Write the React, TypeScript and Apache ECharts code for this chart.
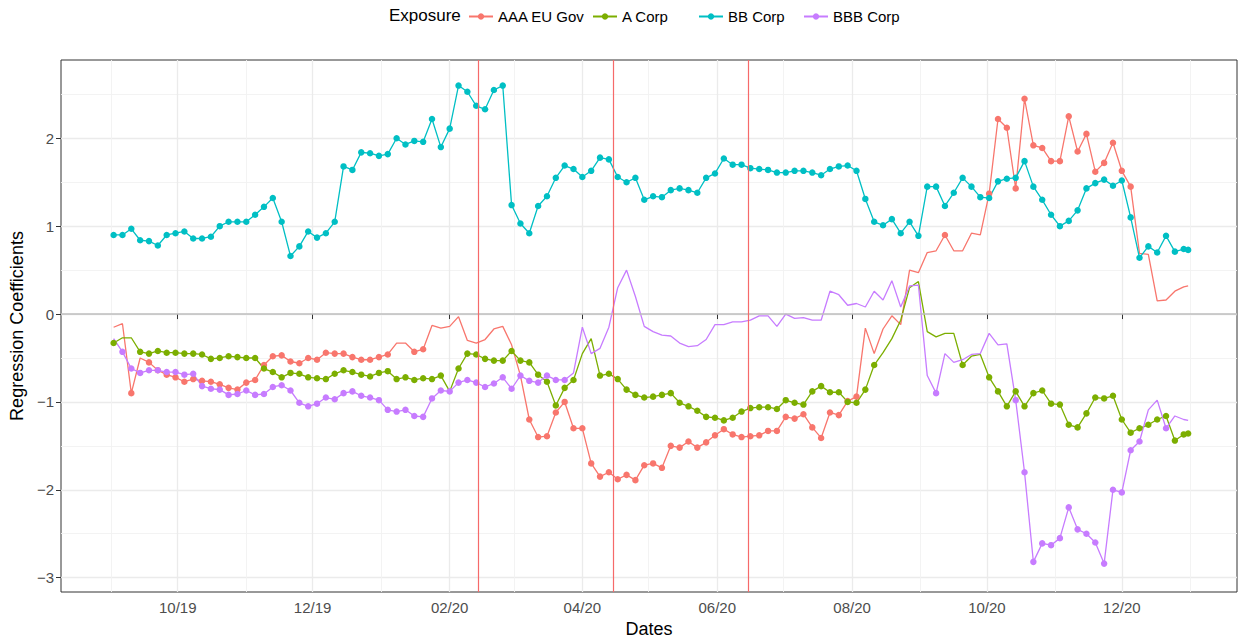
import React, { useEffect, useRef } from 'react';
import * as echarts from 'echarts';

const FONT = '"Liberation Sans", Arial, Helvetica, sans-serif';

const seriesNames = ['AAA EU Gov', 'A Corp', 'BB Corp', 'BBB Corp'];
const seriesColors = ['#F8766D', '#7CAE00', '#00BFC4', '#C77CFF'];

const dates = [
  '2019-09-02', '2019-09-06', '2019-09-10', '2019-09-14', '2019-09-18', '2019-09-22', '2019-09-26', '2019-09-30',
  '2019-10-04', '2019-10-08', '2019-10-12', '2019-10-16', '2019-10-20', '2019-10-24', '2019-10-28',
  '2019-11-01', '2019-11-05', '2019-11-09', '2019-11-13', '2019-11-17', '2019-11-21', '2019-11-25', '2019-11-29',
  '2019-12-03', '2019-12-07', '2019-12-11', '2019-12-15', '2019-12-19', '2019-12-23', '2019-12-27', '2019-12-31',
  '2020-01-04', '2020-01-08', '2020-01-12', '2020-01-16', '2020-01-20', '2020-01-24', '2020-01-28',
  '2020-02-01', '2020-02-05', '2020-02-09', '2020-02-13', '2020-02-17', '2020-02-21', '2020-02-25', '2020-02-29',
  '2020-03-04', '2020-03-08', '2020-03-12', '2020-03-16', '2020-03-20', '2020-03-24', '2020-03-28',
  '2020-04-01', '2020-04-05', '2020-04-09', '2020-04-13', '2020-04-17', '2020-04-21', '2020-04-25', '2020-04-29',
  '2020-05-03', '2020-05-07', '2020-05-11', '2020-05-15', '2020-05-19', '2020-05-23', '2020-05-27', '2020-05-31',
  '2020-06-04', '2020-06-08', '2020-06-12', '2020-06-16', '2020-06-20', '2020-06-24', '2020-06-28',
  '2020-07-02', '2020-07-06', '2020-07-10', '2020-07-14', '2020-07-18', '2020-07-22', '2020-07-26', '2020-07-30',
  '2020-08-03', '2020-08-07', '2020-08-11', '2020-08-15', '2020-08-19', '2020-08-23', '2020-08-27', '2020-08-31',
  '2020-09-04', '2020-09-08', '2020-09-12', '2020-09-16', '2020-09-20', '2020-09-24', '2020-09-28',
  '2020-10-02', '2020-10-06', '2020-10-10', '2020-10-14', '2020-10-18', '2020-10-22', '2020-10-26', '2020-10-30',
  '2020-11-03', '2020-11-07', '2020-11-11', '2020-11-15', '2020-11-19', '2020-11-23', '2020-11-27',
  '2020-12-01', '2020-12-05', '2020-12-09', '2020-12-13', '2020-12-17', '2020-12-21', '2020-12-25', '2020-12-29', '2020-12-31',
];

const aaaEuGov = [
  -0.15, -0.11, -0.90, -0.50, -0.55, -0.64, -0.69, -0.72, -0.77, -0.74,
  -0.76, -0.77, -0.80, -0.84, -0.86, -0.78, -0.75, -0.58, -0.48, -0.47,
  -0.54, -0.56, -0.50, -0.52, -0.44, -0.45, -0.45, -0.49, -0.52, -0.52,
  -0.49, -0.46, -0.33, -0.33, -0.43, -0.40, -0.13, -0.16, -0.14, -0.03,
  -0.30, -0.33, -0.29, -0.17, -0.14, -0.35, -0.70, -1.20, -1.40, -1.39,
  -1.12, -1.00, -1.30, -1.30, -1.70, -1.85, -1.80, -1.88, -1.83, -1.89,
  -1.72, -1.70, -1.75, -1.50, -1.52, -1.45, -1.52, -1.46, -1.38, -1.31,
  -1.37, -1.40, -1.39, -1.38, -1.33, -1.33, -1.17, -1.19, -1.14, -1.29,
  -1.41, -1.12, -1.15, -0.99, -0.94, -0.16, -0.45, -0.17, -0.02, -0.12,
  0.50, 0.47, 0.70, 0.72, 0.90, 0.72, 0.72, 0.92, 0.90, 1.37,
  2.22, 2.12, 1.43, 2.45, 1.92, 1.89, 1.74, 1.74, 2.25, 1.85,
  2.05, 1.62, 1.72, 1.95, 1.63, 1.45, 0.69, 0.68, 0.15, 0.16,
  0.26, 0.31, 0.32,
];
const aaaEuGovDots = [
  0, 0, 1, 0, 1, 1, 1, 1, 1, 1,
  1, 1, 1, 1, 1, 1, 1, 1, 1, 1,
  1, 1, 1, 1, 1, 1, 1, 1, 1, 1,
  1, 1, 0, 0, 1, 1, 0, 0, 0, 0,
  0, 0, 0, 0, 0, 0, 0, 1, 1, 1,
  1, 1, 1, 1, 1, 1, 1, 1, 1, 1,
  1, 1, 1, 1, 1, 1, 1, 1, 1, 1,
  1, 1, 1, 1, 1, 1, 1, 1, 1, 1,
  1, 1, 1, 1, 1, 0, 0, 0, 0, 0,
  0, 0, 0, 0, 1, 0, 0, 0, 0, 1,
  1, 1, 1, 1, 1, 1, 1, 1, 1, 1,
  1, 1, 1, 1, 1, 1, 0, 0, 0, 0,
  0, 0, 0,
];

const aCorp = [
  -0.33, -0.27, -0.27, -0.43, -0.45, -0.42, -0.44, -0.44, -0.45, -0.45,
  -0.46, -0.51, -0.50, -0.48, -0.49, -0.50, -0.50, -0.62, -0.66, -0.72,
  -0.67, -0.68, -0.72, -0.73, -0.74, -0.68, -0.64, -0.66, -0.69, -0.71,
  -0.67, -0.65, -0.74, -0.72, -0.75, -0.73, -0.74, -0.70, -0.88, -0.62,
  -0.45, -0.46, -0.51, -0.53, -0.53, -0.42, -0.53, -0.55, -0.69, -0.77,
  -1.04, -0.84, -0.75, -0.45, -0.28, -0.70, -0.68, -0.74, -0.86, -0.92,
  -0.95, -0.94, -0.92, -0.90, -1.01, -1.05, -1.10, -1.17, -1.18, -1.21,
  -1.18, -1.11, -1.07, -1.06, -1.06, -1.08, -0.98, -1.01, -1.03, -0.88,
  -0.82, -0.89, -0.89, -1.00, -1.01, -0.86, -0.58, -0.44, -0.28, -0.07,
  0.30, 0.37, -0.20, -0.26, -0.22, -0.22, -0.58, -0.48, -0.46, -0.72,
  -0.88, -1.05, -0.88, -1.05, -0.90, -0.87, -1.02, -1.03, -1.26, -1.29,
  -1.13, -0.95, -0.96, -0.93, -1.20, -1.35, -1.30, -1.26, -1.20, -1.16,
  -1.44, -1.37, -1.36,
];
const aCorpDots = [
  1, 0, 0, 1, 1, 1, 1, 1, 1, 1,
  1, 1, 1, 1, 1, 1, 1, 1, 1, 1,
  1, 1, 1, 1, 1, 1, 1, 1, 1, 1,
  1, 1, 1, 1, 1, 1, 1, 1, 0, 1,
  1, 1, 1, 1, 1, 1, 1, 1, 1, 1,
  1, 1, 1, 0, 0, 1, 1, 1, 1, 1,
  1, 1, 1, 1, 1, 1, 1, 1, 1, 1,
  1, 1, 1, 1, 1, 1, 1, 1, 1, 1,
  1, 1, 1, 1, 1, 1, 1, 0, 0, 0,
  0, 0, 0, 0, 0, 0, 1, 0, 0, 1,
  1, 1, 1, 1, 1, 1, 1, 1, 1, 1,
  1, 1, 1, 1, 1, 1, 1, 1, 1, 1,
  1, 1, 1,
];

const bbCorp = [
  0.90, 0.90, 0.97, 0.84, 0.83, 0.78, 0.90, 0.92, 0.94, 0.86,
  0.86, 0.88, 1.00, 1.05, 1.05, 1.05, 1.13, 1.22, 1.32, 1.05,
  0.66, 0.77, 0.94, 0.87, 0.92, 1.05, 1.68, 1.64, 1.84, 1.83,
  1.80, 1.82, 2.00, 1.93, 1.97, 1.96, 2.22, 1.90, 2.11, 2.60,
  2.53, 2.37, 2.33, 2.55, 2.60, 1.24, 1.03, 0.92, 1.23, 1.34,
  1.55, 1.69, 1.65, 1.56, 1.63, 1.78, 1.76, 1.56, 1.50, 1.55,
  1.30, 1.34, 1.33, 1.41, 1.43, 1.41, 1.38, 1.55, 1.60, 1.77,
  1.70, 1.70, 1.66, 1.65, 1.64, 1.61, 1.61, 1.63, 1.63, 1.61,
  1.58, 1.65, 1.68, 1.69, 1.63, 1.31, 1.05, 1.01, 1.08, 0.92,
  1.05, 0.89, 1.45, 1.45, 1.23, 1.38, 1.55, 1.45, 1.33, 1.32,
  1.51, 1.54, 1.55, 1.74, 1.45, 1.30, 1.13, 1.00, 1.06, 1.18,
  1.43, 1.49, 1.53, 1.46, 1.52, 1.10, 0.64, 0.77, 0.70, 0.89,
  0.71, 0.74, 0.73,
];
const bbCorpDots = dates.map(() => 1);

const bbbCorp = [
  -0.28, -0.43, -0.62, -0.67, -0.64, -0.64, -0.66, -0.66, -0.69, -0.68,
  -0.82, -0.85, -0.86, -0.92, -0.91, -0.87, -0.92, -0.91, -0.83, -0.81,
  -0.87, -1.01, -1.05, -1.02, -0.95, -0.97, -0.90, -0.88, -0.93, -0.95,
  -0.98, -1.09, -1.11, -1.09, -1.16, -1.17, -0.96, -0.87, -0.88, -0.78,
  -0.75, -0.78, -0.83, -0.79, -0.72, -0.85, -0.70, -0.76, -0.78, -0.70,
  -0.75, -0.75, -0.67, -0.15, -0.45, -0.39, -0.15, 0.30, 0.50, 0.20,
  -0.14, -0.20, -0.24, -0.25, -0.33, -0.37, -0.36, -0.29, -0.12, -0.12,
  -0.09, -0.09, -0.07, -0.02, -0.02, -0.14, 0.00, -0.05, -0.04, -0.07,
  -0.07, 0.26, 0.22, 0.10, 0.12, 0.08, 0.26, 0.16, 0.38, 0.08,
  0.32, 0.33, -0.70, -0.90, -0.45, -0.55, -0.52, -0.46, -0.45, -0.22,
  -0.35, -0.34, -0.98, -1.80, -2.82, -2.61, -2.63, -2.55, -2.20, -2.45,
  -2.50, -2.60, -2.84, -2.00, -2.03, -1.55, -1.45, -1.09, -0.98, -1.30,
  -1.16, -1.20, -1.21,
];
const bbbCorpDots = [
  0, 1, 1, 1, 1, 1, 1, 1, 1, 1,
  1, 1, 1, 1, 1, 1, 1, 1, 1, 1,
  1, 1, 1, 1, 1, 1, 1, 1, 1, 1,
  1, 1, 1, 1, 1, 1, 1, 1, 1, 1,
  1, 1, 1, 1, 1, 1, 1, 1, 1, 1,
  1, 1, 0, 0, 0, 0, 0, 0, 0, 0,
  0, 0, 0, 0, 0, 0, 0, 0, 0, 0,
  0, 0, 0, 0, 0, 0, 0, 0, 0, 0,
  0, 0, 0, 0, 0, 0, 0, 0, 0, 0,
  0, 0, 0, 1, 0, 0, 0, 0, 0, 0,
  0, 0, 1, 1, 1, 1, 1, 1, 1, 1,
  1, 1, 1, 1, 1, 1, 1, 0, 0, 1,
  0, 0, 0,
];

const eventDates = ['2020-02-14', '2020-04-15', '2020-06-15'];

const xTickDates = ['2019-10-01', '2019-12-01', '2020-02-01', '2020-04-01', '2020-06-01', '2020-08-01', '2020-10-01', '2020-12-01'];
const xTickLabels = ['10/19', '12/19', '02/20', '04/20', '06/20', '08/20', '10/20', '12/20'];
const xMinorDates = ['2019-09-01', '2019-11-01', '2020-01-01', '2020-03-01', '2020-05-01', '2020-07-01', '2020-09-01', '2020-11-01', '2021-01-01'];
const yTicks = [-3, -2, -1, 0, 1, 2];
const yTickLabels = ['\u22123', '\u22122', '\u22121', '0', '1', '2'];
const yMinorTicks = [-2.5, -1.5, -0.5, 0.5, 1.5, 2.5];

const DAY = 86400000;
const toTs = (s: string) => Date.parse(s + 'T00:00:00Z');
const X_MIN = toTs('2019-10-01') - 52.8 * DAY;
const X_MAX = toTs('2019-10-01') + 479.1 * DAY;
const Y_MIN = -3.163;
const Y_MAX = 2.891;

const seriesValues = [aaaEuGov, aCorp, bbCorp, bbbCorp];
const seriesDots = [aaaEuGovDots, aCorpDots, bbCorpDots, bbbCorpDots];
const legendLefts = [463, 587, 693, 798];

function buildOption() {
  const majorTs = xTickDates.map(toTs);
  const minorTs = xMinorDates.map(toTs);
  const lines = seriesNames.map((name, k) => ({
    name,
    type: 'line',
    xAxisIndex: 0,
    yAxisIndex: 0,
    symbol: 'circle',
    symbolSize: 6.5,
    showSymbol: true,
    showAllSymbol: true,
    silent: true,
    emphasis: { disabled: true },
    lineStyle: { color: seriesColors[k], width: 1.3 },
    itemStyle: { color: seriesColors[k] },
    data: dates.map((d, i) => ({
      value: [toTs(d), seriesValues[k][i]],
      symbol: seriesDots[k][i] ? 'circle' : 'none',
    })),
  }));
  const refLines = {
    name: 'ref',
    type: 'line',
    xAxisIndex: 0,
    yAxisIndex: 0,
    data: [],
    silent: true,
    markLine: {
      silent: true,
      symbol: ['none', 'none'],
      label: { show: false },
      emphasis: { disabled: true },
      data: [
        { yAxis: 0, lineStyle: { color: '#BEBEBE', width: 1.5, type: 'solid' } },
        ...eventDates.map((d) => ({ xAxis: toTs(d), lineStyle: { color: '#F66A6A', width: 1.2, type: 'solid' } })),
      ],
    },
  };
  return {
    animation: false,
    backgroundColor: '#ffffff',
    textStyle: { fontFamily: FONT },
    grid: {
      left: 61,
      right: 1,
      top: 60,
      bottom: 46,
      show: true,
      borderColor: '#333333',
      borderWidth: 1,
      backgroundColor: 'transparent',
      containLabel: false,
      outerBoundsMode: 'none',
    },
    legend: seriesNames.map((name, k) => ({
      data: [name],
      left: legendLefts[k],
      top: 4,
      itemWidth: 24,
      itemHeight: 8,
      selectedMode: false,
      textStyle: { fontSize: 15, color: '#000', fontFamily: FONT },
    })),
    graphic: [
      { type: 'text', left: 389, top: 7, style: { text: 'Exposure', fontSize: 17, fill: '#000', fontFamily: FONT } },
    ],
    xAxis: [
      {
        type: 'value',
        min: X_MIN,
        max: X_MAX,
        position: 'bottom',
        name: 'Dates',
        nameLocation: 'middle',
        nameGap: 28,
        nameTextStyle: { fontSize: 18, color: '#000', fontFamily: FONT },
        axisLine: { show: false },
        axisTick: { show: true, length: 5, lineStyle: { color: '#333333', width: 1 }, customValues: majorTs },
        axisLabel: {
          customValues: majorTs,
          margin: 8,
          fontSize: 15,
          color: '#4D4D4D',
          fontFamily: FONT,
          formatter: (v: number) => {
            const idx = majorTs.findIndex((t) => Math.abs(t - v) < DAY);
            return idx >= 0 ? xTickLabels[idx] : '';
          },
        },
        splitLine: { show: true, lineStyle: { color: '#EBEBEB', width: 1.3 } },
      },
      {
        type: 'value',
        min: X_MIN,
        max: X_MAX,
        position: 'top',
        axisLine: { show: false },
        axisTick: { show: false, customValues: minorTs },
        axisLabel: { show: false, customValues: minorTs },
        splitLine: { show: true, lineStyle: { color: '#F2F2F2', width: 0.9 } },
      },
    ],
    yAxis: [
      {
        type: 'value',
        min: Y_MIN,
        max: Y_MAX,
        name: 'Regression Coefficients',
        nameLocation: 'middle',
        nameGap: 34,
        nameRotate: 90,
        nameTextStyle: { fontSize: 18, color: '#000', fontFamily: FONT },
        axisLine: { show: false },
        axisTick: { show: true, length: 5, lineStyle: { color: '#333333', width: 1 }, customValues: yTicks },
        axisLabel: {
          customValues: yTicks,
          margin: 7,
          fontSize: 15,
          color: '#4D4D4D',
          fontFamily: FONT,
          formatter: (v: number) => {
            const idx = yTicks.findIndex((t) => Math.abs(t - v) < 1e-6);
            return idx >= 0 ? yTickLabels[idx] : '';
          },
        },
        splitLine: { show: true, lineStyle: { color: '#EBEBEB', width: 1.3 } },
      },
      {
        type: 'value',
        min: Y_MIN,
        max: Y_MAX,
        position: 'right',
        axisLine: { show: false },
        axisTick: { show: false, customValues: yMinorTicks },
        axisLabel: { show: false, customValues: yMinorTicks },
        splitLine: { show: true, lineStyle: { color: '#F2F2F2', width: 0.9 } },
      },
    ],
    series: [refLines, ...lines],
  };
}

export default function App() {
  const ref = useRef<HTMLDivElement>(null);
  useEffect(() => {
    if (!ref.current) return;
    const chart = echarts.init(ref.current, undefined, { renderer: 'svg' });
    chart.setOption(buildOption() as any);
    return () => chart.dispose();
  }, []);
  return (
    <div
      ref={ref}
      style={{ position: 'fixed', left: 0, top: 0, width: 1238, height: 638, background: '#ffffff' }}
    />
  );
}
